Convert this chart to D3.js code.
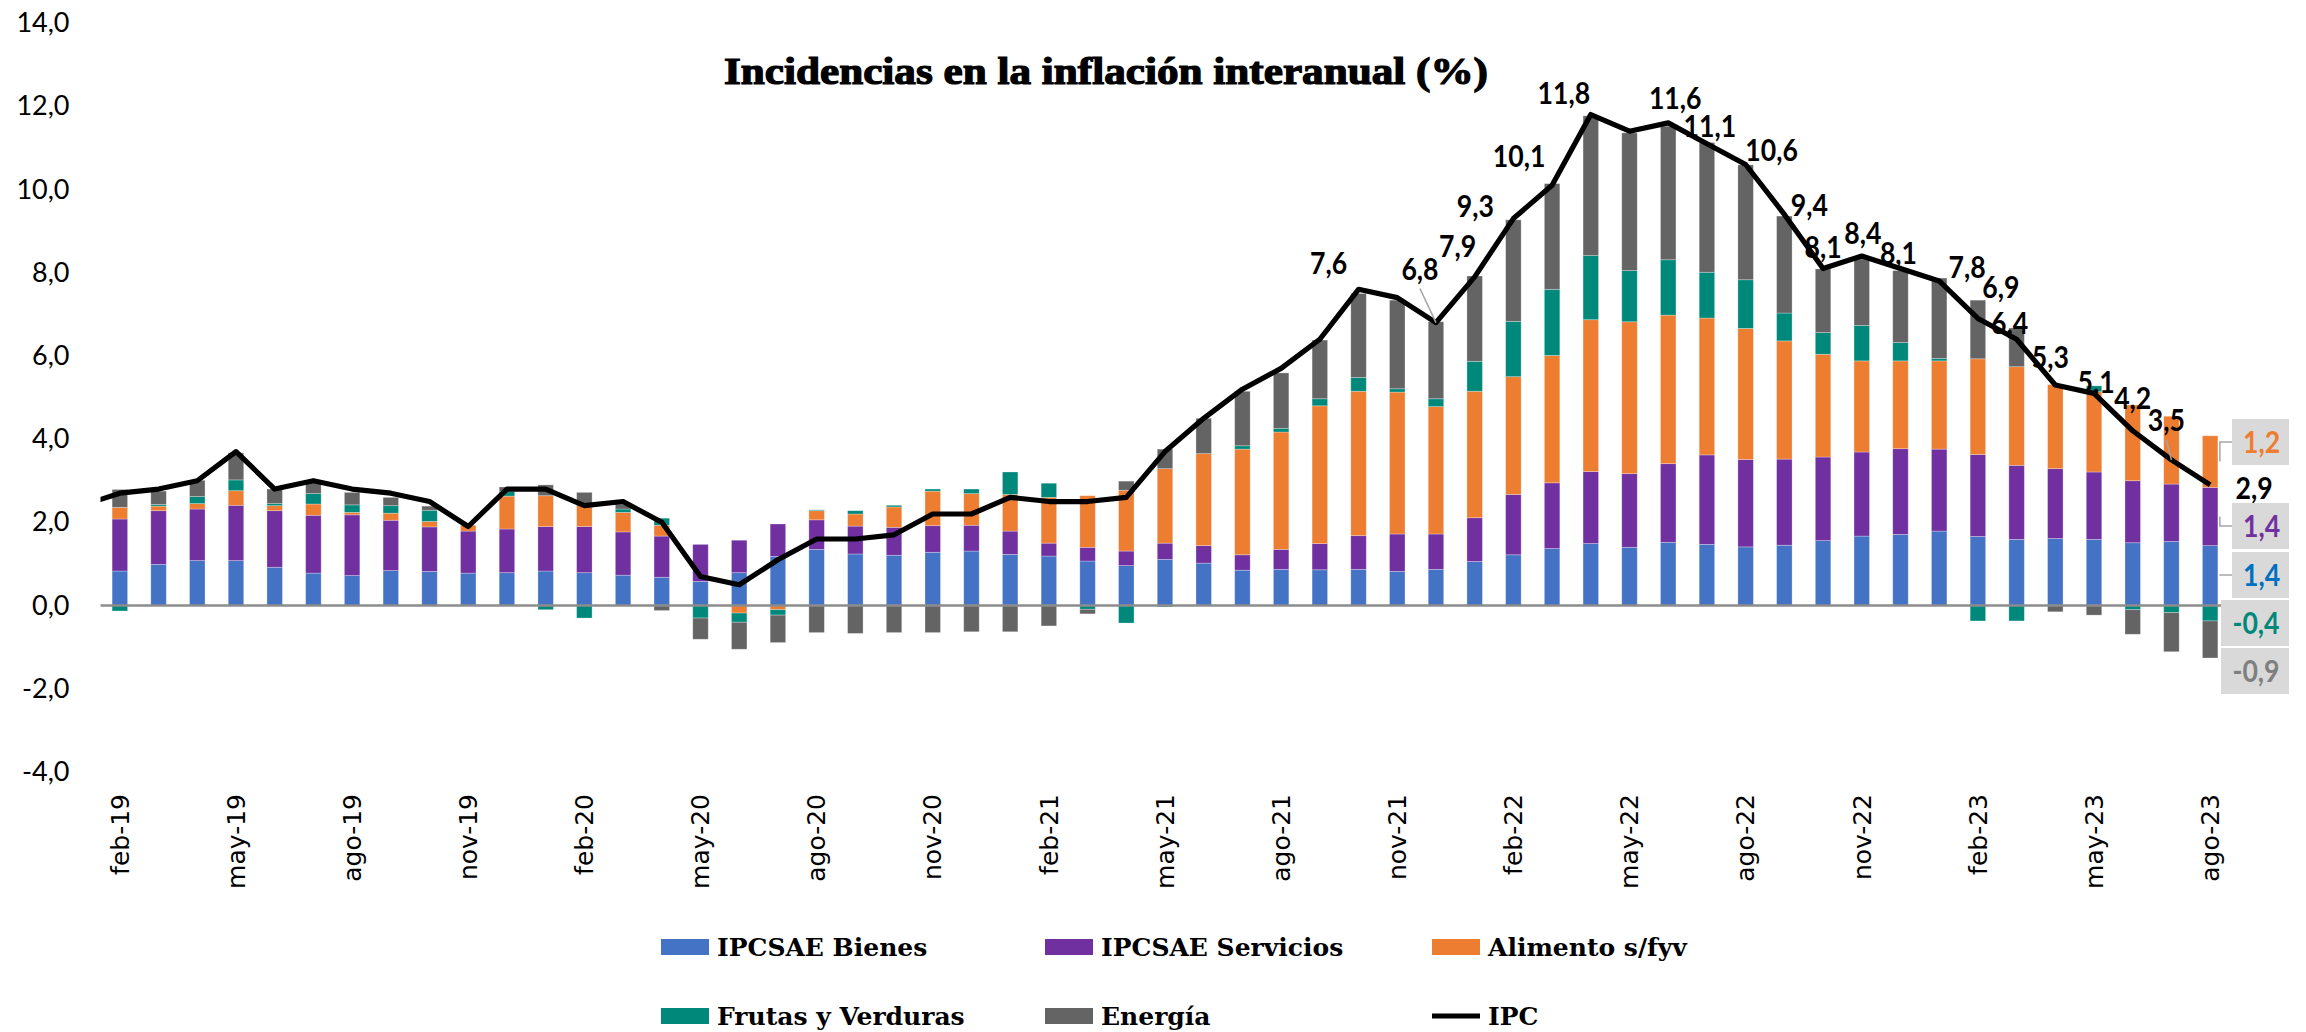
<!DOCTYPE html>
<html>
<head>
<meta charset="utf-8">
<script src="https://cdn.jsdelivr.net/npm/d3@7"></script>
<style>
  html, body { margin: 0; padding: 0; background: #ffffff; }
  svg { display: block; }
</style>
</head>
<body>
<svg id="chart" width="2306" height="1032"></svg>
<script>
// ---- Data: contributions (percentage points) to year-on-year CPI ----
const months = [
  "feb-19","mar-19","abr-19","may-19","jun-19","jul-19","ago-19","sep-19","oct-19","nov-19","dic-19",
  "ene-20","feb-20","mar-20","abr-20","may-20","jun-20","jul-20","ago-20","sep-20","oct-20","nov-20","dic-20",
  "ene-21","feb-21","mar-21","abr-21","may-21","jun-21","jul-21","ago-21","sep-21","oct-21","nov-21","dic-21",
  "ene-22","feb-22","mar-22","abr-22","may-22","jun-22","jul-22","ago-22","sep-22","oct-22","nov-22","dic-22",
  "ene-23","feb-23","mar-23","abr-23","may-23","jun-23","jul-23","ago-23"
];

const tickMonths = [
  "feb-19","may-19","ago-19","nov-19","feb-20","may-20","ago-20","nov-20","feb-21","may-21",
  "ago-21","nov-21","feb-22","may-22","ago-22","nov-22","feb-23","may-23","ago-23"
];

const yTicks = [-4, -2, 0, 2, 4, 6, 8, 10, 12, 14];

const bienes = [
  0.83,0.99,1.08,1.08,0.92,0.78,0.72,0.84,0.82,0.78,0.79,
  0.83,0.79,0.73,0.68,0.58,0.79,1.18,1.35,1.24,1.21,1.28,1.31,
  1.23,1.19,1.07,0.96,1.11,1.02,0.85,0.87,0.86,0.87,0.82,0.87,
  1.06,1.22,1.37,1.49,1.40,1.52,1.47,1.41,1.45,1.56,1.67,1.71,
  1.79,1.66,1.59,1.61,1.59,1.51,1.54,1.44
];

const servicios = [
  1.25,1.29,1.24,1.33,1.36,1.39,1.46,1.21,1.07,1.01,1.05,
  1.07,1.11,1.04,0.99,0.89,0.78,0.78,0.71,0.67,0.67,0.64,0.62,
  0.56,0.31,0.33,0.35,0.39,0.42,0.37,0.48,0.63,0.81,0.90,0.85,
  1.05,1.45,1.58,1.73,1.77,1.89,2.15,2.10,2.07,2.01,2.02,2.06,
  1.97,1.97,1.78,1.68,1.62,1.49,1.38,1.40
];

const alimentos = [
  0.28,0.11,0.13,0.35,0.12,0.27,0.06,0.17,0.13,0.14,0.79,
  0.74,0.50,0.47,0.26,0.00,-0.18,-0.10,0.22,0.29,0.49,0.83,0.76,
  0.88,1.10,1.24,1.46,1.79,2.21,2.54,2.82,3.31,3.47,3.41,3.06,
  3.04,2.83,3.06,3.65,3.65,3.57,3.29,3.15,2.84,2.47,2.19,2.11,
  2.12,2.30,2.37,2.02,1.93,1.82,1.63,1.24
];

const frutas = [
  -0.13,0.04,0.17,0.26,0.05,0.25,0.18,0.18,0.27,0.00,0.11,
  -0.10,-0.30,0.08,0.17,-0.30,-0.22,-0.13,0.02,0.08,0.04,0.05,0.11,
  0.54,0.34,-0.09,-0.42,-0.03,0.00,0.08,0.09,0.17,0.33,0.08,0.19,
  0.72,1.33,1.59,1.54,1.23,1.33,1.10,1.17,0.67,0.52,0.85,0.44,
  0.06,-0.37,-0.37,0.00,0.14,-0.10,-0.17,-0.37
];

const energia = [
  0.43,0.32,0.39,0.65,0.35,0.28,0.30,0.20,0.10,0.00,0.11,
  0.26,0.32,0.12,-0.12,-0.51,-0.65,-0.66,-0.65,-0.67,-0.65,-0.65,-0.63,
  -0.63,-0.49,-0.11,0.22,0.47,0.85,1.31,1.33,1.41,2.02,2.13,1.85,
  2.05,2.44,2.54,3.36,3.31,3.21,3.12,2.76,2.33,1.53,1.60,1.73,
  1.93,1.41,0.93,-0.15,-0.23,-0.59,-0.94,-0.89
];

// Headline CPI, year-on-year (%)
const ipc = [
  2.7,2.8,3.0,3.7,2.8,3.0,2.8,2.7,2.5,1.9,2.8,
  2.8,2.4,2.5,2.0,0.7,0.5,1.1,1.6,1.6,1.7,2.2,2.2,
  2.6,2.5,2.5,2.6,3.7,4.5,5.2,5.7,6.4,7.6,7.4,6.8,
  7.9,9.3,10.1,11.8,11.4,11.6,11.1,10.6,9.4,8.1,8.4,8.1,
  7.8,6.9,6.4,5.3,5.1,4.2,3.5,2.9
];
// ene-19: only the segment running into feb-19 falls inside the plot
const ipcPrev = 2.4;

// ---- Series definitions ----
const series = [
  { key: "bienes",    name: "IPCSAE Bienes",     values: bienes,    color: "#4472c4", labelColor: "#0070c0" },
  { key: "servicios", name: "IPCSAE Servicios",  values: servicios, color: "#7030a0", labelColor: "#7030a0" },
  { key: "alimentos", name: "Alimento s/fyv",    values: alimentos, color: "#ed7d31", labelColor: "#ed7d31" },
  { key: "frutas",    name: "Frutas y Verduras", values: frutas,    color: "#00897b", labelColor: "#00897b" },
  { key: "energia",   name: "Energía",           values: energia,   color: "#646464", labelColor: "#7f7f7f" }
];

// ---- Layout ----
const plot = { left: 100.5, right: 2229.5, top: 23, bottom: 772 };
const labelFont = "Lato, 'Open Sans', sans-serif";
const serifFont = "'DejaVu Serif', 'Liberation Serif', serif";
const titleFont = "'Liberation Serif', 'DejaVu Serif', serif";
const labelSquash = 0.86; // horizontal scale of the value labels

// Placement of the CPI value labels relative to their point [dx, dy, leader]
const ipcLabelOffsets = {
  32: [-30, -26], 34: [-16, -54, true], 35: [-17, -31], 36: [-38, -13], 37: [-33, -29],
  38: [-27, -22], 40: [7, -25], 41: [3, -18], 42: [26, -15], 43: [25, -10],
  44: [0, -22], 45: [1, -23], 46: [-2, -16], 47: [28, -14], 48: [23, -32],
  49: [-7, -16], 50: [-5, -28], 51: [2, -12], 52: [0, -33], 53: [-5, -40, true], 54: [44, 3]
};

// Boxes holding the latest contribution of each component
const endBoxes = {
  alimentos: { cy: 442, x0: 2232, leader: true },
  servicios: { cy: 526, x0: 2232, leader: true },
  bienes:    { cy: 575, x0: 2232, leader: true },
  frutas:    { cy: 623, x0: 2221, leader: false },
  energia:   { cy: 671, x0: 2221, leader: false }
};

const svg = d3.select("#chart");

const locale = d3.formatLocale({ decimal: ",", thousands: ".", grouping: [3], currency: ["", ""], minus: "-" });
const f1 = locale.format(".1f");

const x = d3.scaleBand()
  .domain(months)
  .range([plot.left, plot.right])
  .paddingInner(0.6)
  .paddingOuter(0.3);

const y = d3.scaleLinear().domain([-4, 14]).range([plot.bottom, plot.top]);

const cx = i => x(months[0]) + x.bandwidth() / 2 + i * x.step();

// ---- Stacked bars ----
const rows = months.map((m, i) => {
  const r = { month: m };
  series.forEach(s => { r[s.key] = s.values[i]; });
  return r;
});

const stacked = d3.stack()
  .keys(series.map(s => s.key))
  .offset(d3.stackOffsetDiverging)(rows);

const barsG = svg.append("g").attr("class", "bars");
stacked.forEach((layer, k) => {
  barsG.append("g")
    .attr("fill", series[k].color)
    .selectAll("rect")
    .data(layer)
    .join("rect")
      .attr("x", d => x(d.data.month))
      .attr("width", x.bandwidth())
      .attr("y", d => y(Math.max(d[0], d[1])))
      .attr("height", d => Math.abs(y(d[0]) - y(d[1])))
      .attr("stroke", "#ffffff")
      .attr("stroke-opacity", 0.35)
      .attr("stroke-width", 0.8);
});

// ---- Zero line ----
svg.append("line")
  .attr("x1", plot.left).attr("x2", plot.right)
  .attr("y1", y(0)).attr("y2", y(0))
  .attr("stroke", "#8c8c8c")
  .attr("stroke-width", 2.5);

// ---- Y axis (labels only) ----
const yAxisG = svg.append("g")
  .attr("transform", `translate(${plot.left},0)`)
  .call(d3.axisLeft(y).tickValues(yTicks).tickFormat(f1).tickSize(0).tickPadding(31));
yAxisG.select(".domain").remove();
yAxisG.selectAll("text")
  .attr("font-family", labelFont)
  .attr("font-size", 27)
  .attr("fill", "#000");

// ---- X axis (rotated month labels) ----
const xAxisG = svg.append("g")
  .attr("transform", "translate(0,794)")
  .call(d3.axisBottom(x).tickValues(tickMonths).tickSize(0).tickPadding(0));
xAxisG.select(".domain").remove();
xAxisG.selectAll("text")
  .attr("transform", "rotate(-90)")
  .attr("text-anchor", "end")
  .attr("x", 0)
  .attr("y", 0)
  .attr("dy", "0.35em")
  .attr("font-family", "'DejaVu Sans', Verdana, sans-serif")
  .attr("font-size", 25)
  .attr("fill", "#000");

// ---- CPI line ----
svg.append("clipPath").attr("id", "plotClip")
  .append("rect")
  .attr("x", plot.left).attr("y", 0)
  .attr("width", plot.right - plot.left).attr("height", 1032);

const ipcPoints = [{ i: -1, v: ipcPrev }].concat(ipc.map((v, i) => ({ i, v })));
svg.append("path")
  .datum(ipcPoints)
  .attr("clip-path", "url(#plotClip)")
  .attr("fill", "none")
  .attr("stroke", "#000")
  .attr("stroke-width", 5.2)
  .attr("stroke-linejoin", "round")
  .attr("d", d3.line().x(d => cx(d.i)).y(d => y(d.v)));

// ---- CPI value labels ----
const ipcLabels = Object.keys(ipcLabelOffsets).map(k => {
  const i = +k;
  const [dx, dy, leader] = ipcLabelOffsets[k];
  return { i, v: ipc[i], lx: cx(i) + dx, ly: y(ipc[i]) + dy, leader: !!leader };
});

svg.append("g")
  .selectAll("line")
  .data(ipcLabels.filter(d => d.leader))
  .join("line")
    .attr("x1", d => d.lx).attr("y1", d => d.ly + 20)
    .attr("x2", d => cx(d.i)).attr("y2", d => y(d.v))
    .attr("stroke", "#a6a6a6")
    .attr("stroke-width", 1.5);

svg.append("g")
  .selectAll("text")
  .data(ipcLabels)
  .join("text")
    .attr("transform", d => `translate(${d.lx},${d.ly}) scale(${labelSquash},1)`)
    .attr("dy", "0.36em")
    .attr("text-anchor", "middle")
    .attr("font-family", labelFont)
    .attr("font-weight", 700)
    .attr("font-size", 31)
    .attr("fill", "#000")
    .text(d => f1(d.v));

// ---- Latest-month component labels ----
const last = months.length - 1;
const lastStack = {};
stacked.forEach((layer, k) => { lastStack[series[k].key] = layer[last]; });
const barRight = x(months[last]) + x.bandwidth();
const boxRight = 2289, boxH = 46;

const endG = svg.append("g");
series.forEach(s => {
  const b = endBoxes[s.key];
  const seg = lastStack[s.key];
  const midY = y((seg[0] + seg[1]) / 2);
  if (b.leader) {
    endG.append("path")
      .attr("d", `M${barRight + 2},${midY}V${b.cy}H${b.x0}`)
      .attr("fill", "none")
      .attr("stroke", "#a6a6a6")
      .attr("stroke-width", 1.5);
  }
  endG.append("rect")
    .attr("x", b.x0).attr("y", b.cy - boxH / 2)
    .attr("width", boxRight - b.x0).attr("height", boxH)
    .attr("fill", "#d9d9d9");
  endG.append("text")
    .attr("transform", `translate(${(b.x0 + boxRight) / 2 + 1},${b.cy}) scale(${labelSquash},1)`)
    .attr("dy", "0.36em")
    .attr("text-anchor", "middle")
    .attr("font-family", labelFont)
    .attr("font-weight", 700)
    .attr("font-size", 31)
    .attr("fill", s.labelColor)
    .text(f1(s.values[last]));
});

// ---- Title ----
svg.append("text")
  .attr("x", 1106)
  .attr("y", 84)
  .attr("text-anchor", "middle")
  .attr("font-family", titleFont)
  .attr("font-weight", 700)
  .attr("font-size", 37)
  .attr("textLength", 764)
  .attr("lengthAdjust", "spacingAndGlyphs")
  .attr("fill", "#000")
  .attr("stroke", "#000")
  .attr("stroke-width", 1.2)
  .text("Incidencias en la inflación interanual (%)");

// ---- Legend ----
const legendItems = series.map(s => ({ name: s.name, color: s.color, type: "rect" }))
  .concat([{ name: "IPC", color: "#000", type: "line" }]);
const legendCols = [661, 1045, 1432];
const legendRows = [947, 1016];

const legend = svg.append("g").selectAll("g")
  .data(legendItems)
  .join("g")
    .attr("transform", (d, i) => `translate(${legendCols[i % 3]},${legendRows[Math.floor(i / 3)]})`);

legend.filter(d => d.type === "rect").append("rect")
  .attr("x", 0).attr("y", -8).attr("width", 48).attr("height", 16)
  .attr("fill", d => d.color);
legend.filter(d => d.type === "line").append("line")
  .attr("x1", 0).attr("x2", 48).attr("y1", 0).attr("y2", 0)
  .attr("stroke", d => d.color).attr("stroke-width", 5);
legend.append("text")
  .attr("x", 56).attr("y", 0).attr("dy", "0.36em")
  .attr("font-family", serifFont)
  .attr("font-weight", 700)
  .attr("font-size", 25)
  .attr("fill", "#000")
  .text(d => d.name);
</script>
</body>
</html>
